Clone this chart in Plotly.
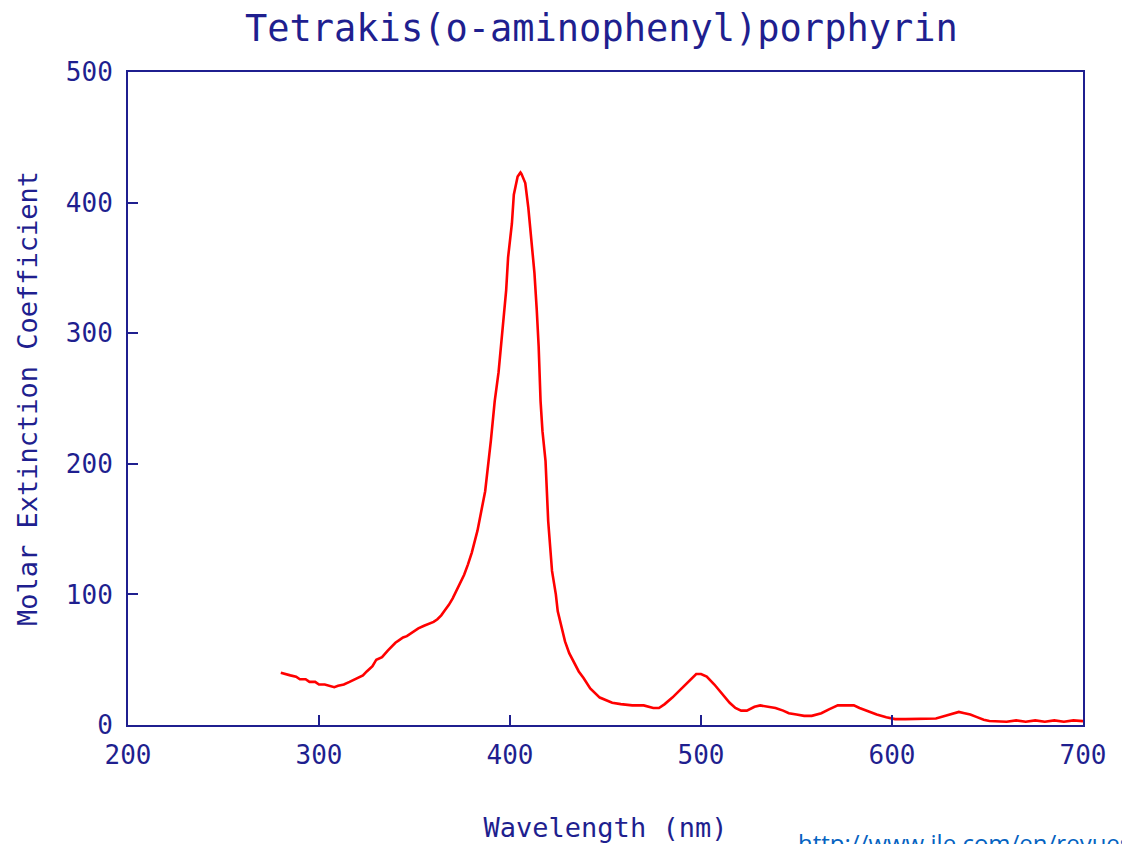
import plotly.graph_objects as go

# Absorption spectrum of tetrakis(o-aminophenyl)porphyrin
wavelength_nm = [
    280, 282, 285, 288, 290, 293, 295, 298, 300, 303, 305, 308, 310, 313, 316,
    320, 323, 325, 328, 330, 333, 336, 338, 340, 342, 344, 346, 348, 350, 352,
    355, 358, 360, 362, 364, 366, 368, 370, 372, 374, 376, 378, 380, 383, 385,
    387, 390, 392, 394, 395, 396.5, 398, 399, 401, 402, 403, 404, 405, 405.5,
    406, 407, 408, 409.6, 411, 412.8, 414, 415, 416, 417, 418.6, 420, 422,
    424, 425, 427, 428.8, 431, 433, 436, 438.5, 442, 447, 450, 453.5, 458,
    464, 470, 475, 478, 481, 485, 490, 494, 497.5, 500, 503, 507, 511, 515,
    518, 521, 524, 528, 531, 535, 539, 543, 546, 550, 554, 558, 563, 567,
    571.6, 576, 580, 583, 586.6, 592, 597, 601.6, 607, 612, 618, 623, 628,
    632, 635, 638, 641, 644.5, 648, 651, 655, 660, 665, 670, 675, 680, 685,
    690, 695, 700,
]
molar_extinction = [
    40, 39, 38, 37, 35, 35, 33, 33, 31, 31, 30, 29, 30, 31, 33,
    36, 38, 41, 45, 50, 52, 57, 60, 63, 65, 67, 68, 70, 72, 74,
    76, 78, 79, 81, 84, 88, 92, 97, 103, 108, 115, 123, 132, 149, 163,
    179, 218, 248, 270, 287, 308, 333, 358, 384, 406, 414, 420, 422, 423,
    422, 419, 415, 396, 375, 346, 318, 290, 248, 225, 202, 156, 118,
    100, 87, 74, 64, 55, 49, 41, 36, 28, 21, 19, 17, 16,
    15, 15, 13, 13, 16, 21, 28, 34, 39, 39, 37, 31, 24, 17,
    13, 11, 11, 14, 15, 14, 13, 11, 9, 8, 7, 7, 9, 12,
    15, 15, 15, 13, 11, 8, 6, 4.5, 4.5, 4.5, 4.5, 5, 7,
    9, 10, 9, 8, 6, 4, 3, 3, 2.5, 3.5, 2.5, 3.5, 2.5, 3.5,
    2.5, 3.5, 3,
]

x_ticks = [200, 300, 400, 500, 600, 700]
y_ticks = [0, 100, 200, 300, 400, 500]

NAVY = "#1f1f8f"
MONO = "DejaVu Sans Mono"

fig = go.Figure()
fig.add_trace(go.Scatter(
    x=wavelength_nm,
    y=molar_extinction,
    mode="lines",
    line=dict(color="#ff0000", width=2.6),
    showlegend=False,
))

axis_common = dict(
    showgrid=False,
    zeroline=False,
    showline=True,
    linecolor=NAVY,
    linewidth=2,
    mirror=True,
    ticks="inside",
    ticklen=10,
    tickwidth=2,
    tickcolor=NAVY,
    tickfont=dict(family=MONO, size=26, color=NAVY),
    automargin=False,
)

fig.update_xaxes(
    range=[200, 700],
    tickvals=x_ticks,
    ticktext=[str(v) for v in x_ticks],
    ticklabelstandoff=6,
    title=dict(text="Wavelength (nm)", font=dict(family=MONO, size=27, color=NAVY),
               standoff=49),
    **axis_common,
)
fig.update_yaxes(
    range=[0, 500],
    tickvals=y_ticks,
    ticktext=[str(v) for v in y_ticks],
    ticklabelstandoff=8,
    title=dict(text="Molar Extinction Coefficient",
               font=dict(family=MONO, size=27, color=NAVY), standoff=20),
    **axis_common,
)

fig.update_layout(
    width=1122,
    height=844,
    margin=dict(l=128, r=39, t=72, b=119, autoexpand=False),
    paper_bgcolor="white",
    plot_bgcolor="white",
    title=dict(
        text="Tetrakis(o-aminophenyl)porphyrin",
        font=dict(family=MONO, size=37, color=NAVY),
        x=0.536, xanchor="center",
        y=1 - 28 / 844, yanchor="middle",
    ),
)

# source link in the bottom-right corner, running off the page edge
fig.add_annotation(
    text="http://www.jle.com/en/revues/",
    xref="paper", yref="paper",
    x=(796 - 128) / (1122 - 128 - 39), xanchor="left",
    y=-(824 - 725) / (725 - 72), yanchor="top",
    showarrow=False,
    font=dict(family="Open Sans", size=24, color="#0563c1"),
)

fig.write_html("out.html")
